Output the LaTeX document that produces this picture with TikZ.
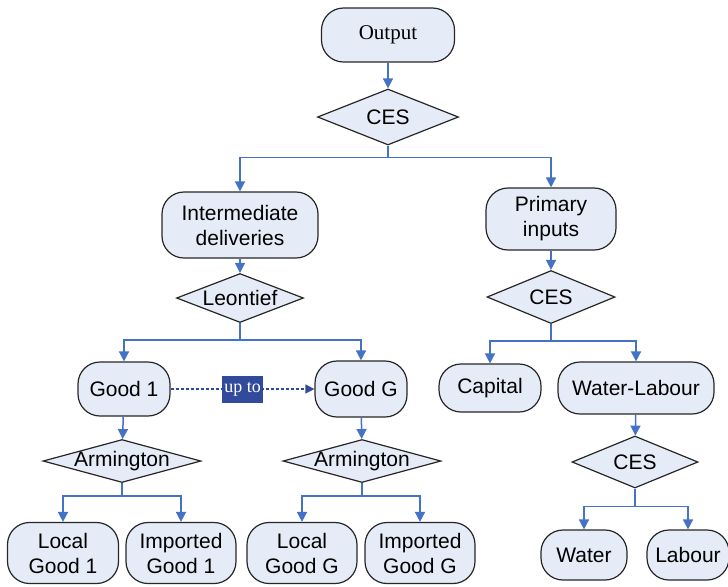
\documentclass[tikz,border=0pt]{standalone}
\usepackage{fontspec}
\setmainfont{Liberation Sans}
\newfontfamily\timesfont{Liberation Serif}
\usetikzlibrary{arrows.meta,shapes.geometric}
\definecolor{boxfill}{RGB}{230,236,247}
\definecolor{linkblue}{RGB}{68,114,196}
\definecolor{uptoblue}{RGB}{50,74,155}

\begin{document}
\begin{tikzpicture}[x=0.5pt,y=-0.5pt,
        font=\fontsize{10.5}{12.5}\selectfont,
        term/.style={rectangle, rounded corners=11pt, draw=black!85, line width=0.6pt, fill=boxfill, align=center, inner sep=2pt},
        gate/.style={diamond, draw=black!85, line width=0.6pt, fill=boxfill, inner sep=0pt},
        link/.style={draw=linkblue, line width=0.75pt, -{Triangle[length=5pt,width=5pt]}},
        uptolink/.style={draw=uptoblue, line width=0.6pt, dash pattern=on 1.5pt off 1pt, -{Triangle[length=4.5pt,width=4.5pt]}},
        uptobox/.style={fill=uptoblue, text=white, font=\timesfont\fontsize{9}{10}\selectfont, minimum width=20pt, minimum height=13.5pt, inner sep=1pt}]
        % Umgebung
        \useasboundingbox (0,0) rectangle (728,586);
        % Oben - Output und CES
        \node at (388,35) [term, minimum width=66.5pt, minimum height=27pt, font=\timesfont\fontsize{10.5}{12.5}\selectfont] (output) {Output};
        \node at (388,117) [gate, minimum width=70.5pt, minimum height=28pt, label=center:CES] (ces) {};
        \draw[link] (output) -- (ces);
        % Zweite Ebene
        \node at (240,225) [term, minimum width=78pt, minimum height=33pt] (inter) {Intermediate\\deliveries};
        \node at (551,219) [term, minimum width=65pt, minimum height=31pt] (primary) {Primary\\inputs};
        \draw[link] (ces.south) -- ++(0,12) -| (inter.north);
        \draw[link] (ces.south) -- ++(0,12) -| (primary.north);
        % Links - Leontief
        \node at (240,298) [gate, minimum width=63.5pt, minimum height=24.5pt, label=center:Leontief] (leontief) {};
        \draw[link] (inter) -- (leontief);
        \node at (124,389) [term, minimum width=46pt, minimum height=27pt] (good1) {Good 1};
        \node at (361,389) [term, minimum width=46pt, minimum height=28pt] (goodG) {Good G};
        \draw[link] (leontief.south) -- ++(0,17) -| (good1.north);
        \draw[link] (leontief.south) -- ++(0,17) -| (goodG.north);
        % Pfeil - up to
        \draw[uptolink] (good1) -- node[uptobox] (upto) {up to} (goodG);
        % Armington - Good 1
        \node at (122,461) [gate, minimum width=79pt, minimum height=21.5pt, label=center:Armington] (arm1) {};
        \draw[link] (good1) -- (arm1);
        \node at (63,553) [term, minimum width=55.5pt, minimum height=30.5pt] (local1) {Local\\Good 1};
        \node at (181,553) [term, minimum width=55pt, minimum height=30.5pt] (import1) {Imported\\Good 1};
        \draw[link] (arm1.south) -- ++(0,13) -| (local1.north);
        \draw[link] (arm1.south) -- ++(0,13) -| (import1.north);
        % Armington - Good G
        \node at (362,461) [gate, minimum width=79pt, minimum height=21.5pt, label=center:Armington] (armG) {};
        \draw[link] (goodG) -- (armG);
        \node at (302,553) [term, minimum width=55pt, minimum height=30.5pt] (localG) {Local\\Good G};
        \node at (420,553) [term, minimum width=55pt, minimum height=30.5pt] (importG) {Imported\\Good G};
        \draw[link] (armG.south) -- ++(0,13) -| (localG.north);
        \draw[link] (armG.south) -- ++(0,13) -| (importG.north);
        % Rechts - Primary inputs
        \node at (551,297) [gate, minimum width=64pt, minimum height=26.5pt, label=center:CES] (cesP) {};
        \draw[link] (primary) -- (cesP);
        \node at (490,388) [term, minimum width=51pt, minimum height=24pt] (capital) {Capital};
        \node at (636,388) [term, minimum width=78pt, minimum height=26pt] (wl) {Water-Labour};
        \draw[link] (cesP.south) -- ++(0,17) -| (capital.north);
        \draw[link] (cesP.south) -- ++(0,17) -| (wl.north);
        % Rechts - Water-Labour
        \node at (635,462) [gate, minimum width=63pt, minimum height=26pt, label=center:CES] (cesW) {};
        \draw[link] (wl) -- (cesW);
        \node at (584,555) [term, minimum width=43pt, minimum height=25pt] (water) {Water};
        \node at (688,555) [term, minimum width=41pt, minimum height=25pt] (labour) {Labour};
        \draw[link] (cesW.south) -- ++(0,18) -| (water.north);
        \draw[link] (cesW.south) -- ++(0,18) -| (labour.north);
    \end{tikzpicture}
\end{document}
